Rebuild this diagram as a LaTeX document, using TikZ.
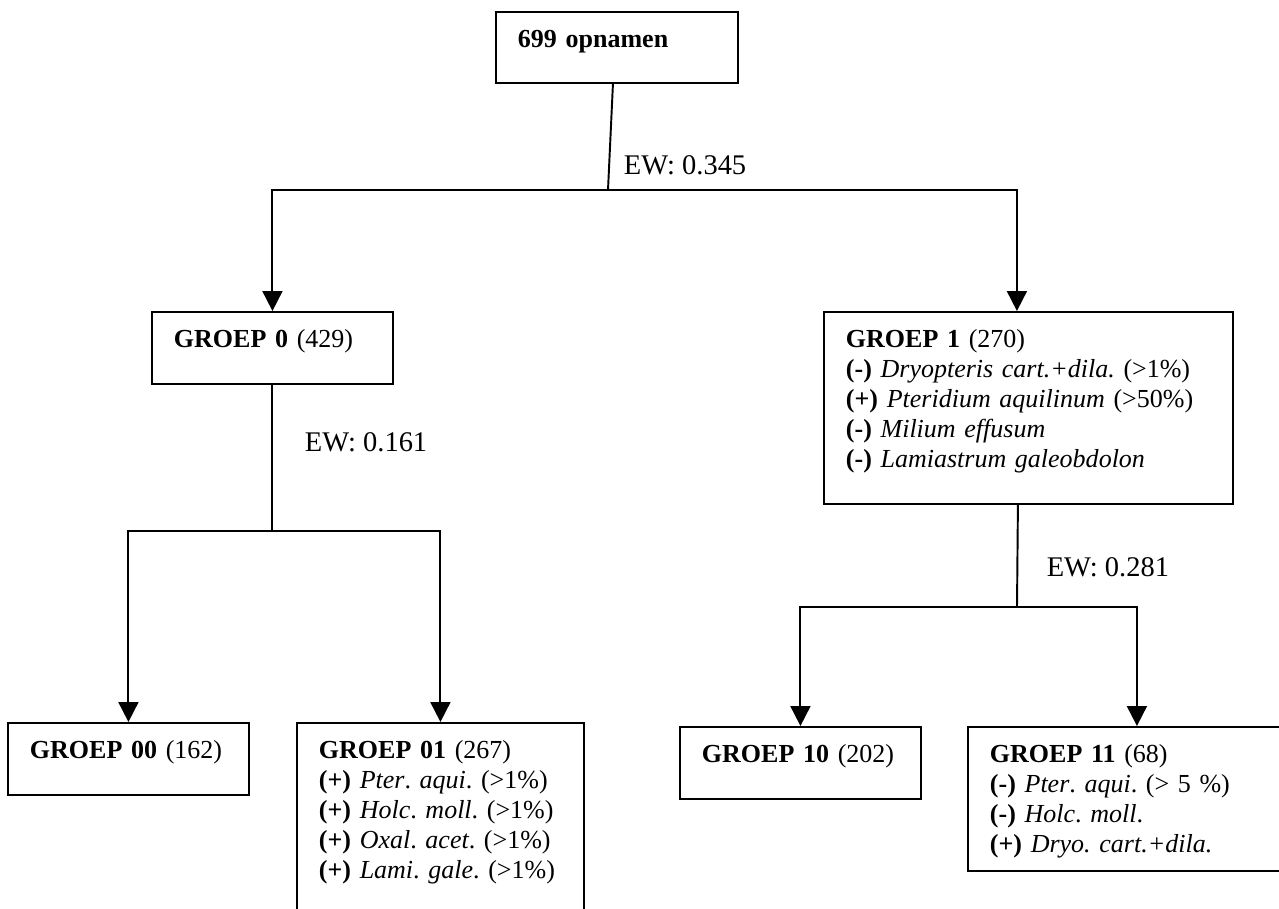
\documentclass[tikz,border=0pt]{standalone}
\usepackage{fontspec}
\setmainfont{Liberation Serif}
\usetikzlibrary{arrows.meta}

\begin{document}
\frenchspacing
\begin{tikzpicture}[x=0.02cm, y=-0.02cm, line width=1.1pt,
    box/.style={draw, anchor=north west, align=left, inner xsep=0.44cm, inner ysep=0pt,
      text height=0.72cm, font=\fontsize{14.8}{17.07}\selectfont\frenchspacing},
    ew/.style={inner sep=0pt, font=\fontsize{16.2}{19}\selectfont},
    arr/.style={-{Triangle[width=0.4cm, length=0.4cm]}},
    ]
    \useasboundingbox (0,0) rectangle (1279,909);
    \clip (0,0) rectangle (1279,909);

    % Root
    \node[box, text width=3.96cm, text depth=0.70cm] (root) at (495,11) {\textbf{699 opnamen}};

    % First split
    \node[box, text width=3.94cm, text depth=0.72cm] (g0) at (151,311) {\textbf{GROEP 0} (429)};
    \node[box, text width=7.3cm, text depth=3.12cm] (g1) at (823,311) {\textbf{GROEP 1} (270)\\
      \textbf{(-)} \textit{Dryopteris cart.+dila.} (>1\%)\\
      \textbf{(+)} \textit{Pteridium aquilinum} (>50\%)\\
      \textbf{(-)} \textit{Milium effusum}\\
      \textbf{(-)} \textit{Lamiastrum galeobdolon}};

    % Second split
    \node[box, text width=3.94cm, text depth=0.72cm] (g00) at (7,722) {\textbf{GROEP 00} (162)};
    \node[box, text width=4.86cm, text depth=3.3cm] (g01) at (296,722) {\textbf{GROEP 01} (267)\\
      \textbf{(+)} \textit{Pter}. \textit{aqui}. (>1\%)\\
      \textbf{(+)} \textit{Holc}. \textit{moll}. (>1\%)\\
      \textbf{(+)} \textit{Oxal}. \textit{acet}. (>1\%)\\
      \textbf{(+)} \textit{Lami}. \textit{gale}. (>1\%)};
    \node[box, text width=3.94cm, text depth=0.72cm] (g10) at (679,726) {\textbf{GROEP 10} (202)};
    \node[box, text width=5.88cm, text depth=2.16cm] (g11) at (967,726) {\textbf{GROEP 11} (68)\\
      \textbf{(-)} \textit{Pter}. \textit{aqui}. (> 5 \%)\\
      \textbf{(-)} \textit{Holc}. \textit{moll}.\\
      \textbf{(+)} \textit{Dryo. cart.+dila.}};

    % Junctions
    \coordinate (j0) at (608,190);
    \coordinate (j1) at (272,531);
    \coordinate (j2) at (1017,607);

    % Connectors
    \draw ([xshift=-0.08cm]root.south) -- (j0);
    \draw[arr] (j0) -| (g0.north);
    \draw[arr] (j0) -| ([xshift=-0.23cm]g1.north);

    \draw (g0.south) -- (g0.south |- j1);
    \draw[arr] (j1) -| (g00.north);
    \draw[arr] (j1) -| (g01.north);

    \draw ([xshift=-0.21cm]g1.south) -- (j2);
    \draw[arr] (j2) -| (g10.north);
    \draw[arr] (j2) -| (g11.north);

    % Split values
    \node[ew, anchor=west] (ew0) at (623,165) {EW: 0.345};
    \node[ew, anchor=west] (ew1) at (304,442) {EW: 0.161};
    \node[ew, anchor=east] (ew2) at (1170,567) {EW: 0.281};
\end{tikzpicture}
\end{document}
